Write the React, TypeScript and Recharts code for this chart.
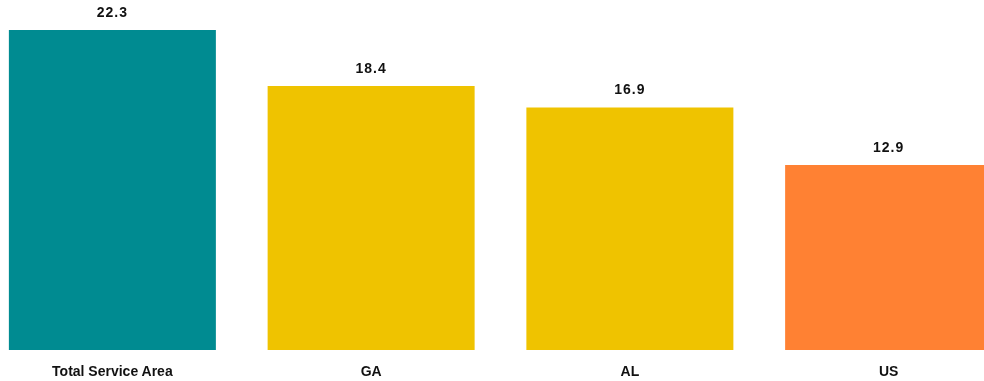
import { BarChart, Bar, XAxis, YAxis, Cell, LabelList } from "recharts";

const categories = ["Total Service Area", "GA", "AL", "US"];
const values = [22.3, 18.4, 16.9, 12.9];
const COLORS = ["#008b91", "#efc300", "#efc300", "#ff8133"];

const data = categories.map((name, i) => ({ name, value: values[i] }));

const FONT = "Arial, 'Liberation Sans', sans-serif";

const App = () => {
  return (
    <div style={{ position: "fixed", top: 0, left: 0, width: 984, height: 381, overflow: "hidden" }}>
      <div style={{ position: "absolute", top: 0, left: -17 }}>
        <BarChart
          width={1035}
          height={381}
          data={data}
          margin={{ top: 30, right: 0, bottom: 1, left: 0 }}
          barCategoryGap="10%"
        >
          <XAxis
            dataKey="name"
            axisLine={false}
            tickLine={false}
            tickMargin={10}
            height={30}
            interval={0}
            tick={{ fill: "#111", fontSize: 14, fontWeight: "bold", fontFamily: FONT }}
          />
          <YAxis hide domain={[0, 22.3]} />
          <Bar dataKey="value" isAnimationActive={false}>
            {data.map((_entry, index) => (
              <Cell key={`cell-${index}`} fill={COLORS[index % COLORS.length]} />
            ))}
            <LabelList
              dataKey="value"
              position="top"
              offset={13}
              style={{ fill: "#111", fontSize: 14, fontWeight: "bold", fontFamily: FONT, letterSpacing: 1 }}
            />
          </Bar>
        </BarChart>
      </div>
    </div>
  );
};

export default App;
